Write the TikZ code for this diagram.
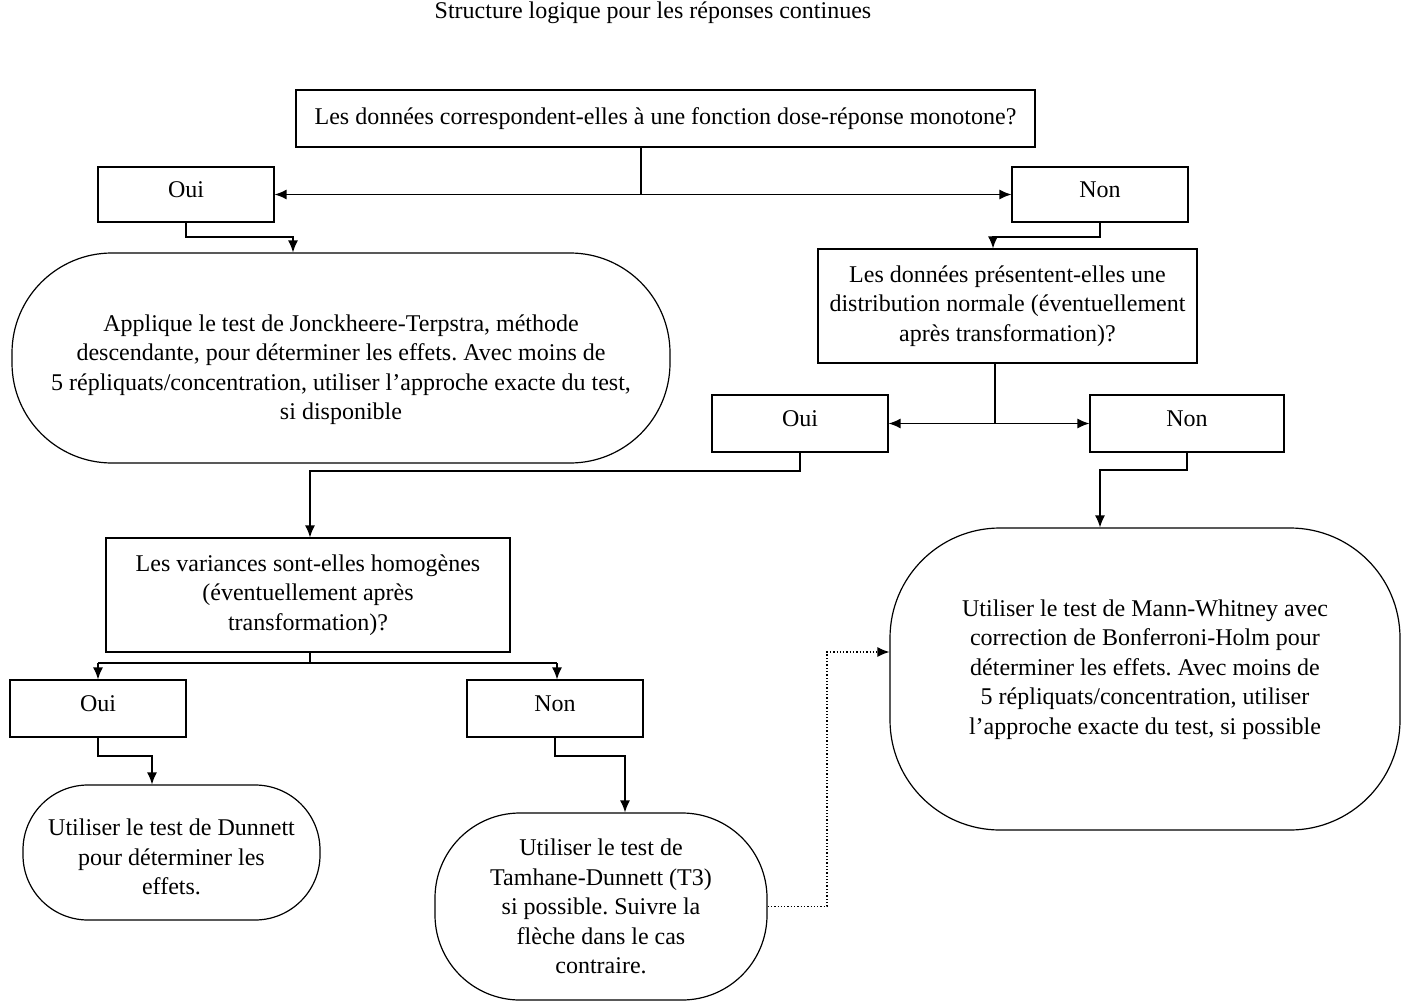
\documentclass[tikz,border=0pt]{standalone}
\usepackage{fontspec}
\setmainfont{Liberation Serif}
\usetikzlibrary{arrows.meta}
\frenchspacing
\begin{document}
\begin{tikzpicture}[x=1pt,y=-1pt,
  every node/.style={font=\fontsize{24}{29.5}\selectfont, inner sep=0pt, align=center},
  box/.style={draw, line width=1.2pt, rectangle},
  term/.style={draw, line width=1.2pt, rectangle},
  conn/.style={line width=1.3pt},
  arr/.style={conn, -{Latex[length=12pt,width=10pt]}},
  dotarr/.style={line width=1.3pt, dotted, -{Latex[length=12pt,width=10pt]}}]
\newcommand{\upstrut}{\rule[-10pt]{0pt}{0pt}}
\useasboundingbox (0,0) rectangle (1402,1006);
\fill[white] (0,0) rectangle (1402,1006);

\node (title) at (653,13) {\fontsize{24}{28}\selectfont Structure logique pour les réponses continues};

\node[box, minimum width=739pt, minimum height=57pt] (q1) at (665.5,118.5)
  {Les données correspondent-elles à une fonction dose-réponse monotone?};
\node[box, minimum width=176pt, minimum height=55pt] (oui1) at (186,194.5) {Oui\upstrut};
\node[box, minimum width=176pt, minimum height=55pt] (non1) at (1100,194.5) {Non\upstrut};

\node[term, rounded corners=100pt, minimum width=658pt, minimum height=210pt] (jt) at (341,358)
  {\rule{0pt}{40pt}Applique le test de Jonckheere-Terpstra, méthode\\descendante, pour déterminer les effets. Avec moins de\\5 répliquats/concentration, utiliser l'approche exacte du test,\\si disponible};

\node[box, minimum width=379pt, minimum height=114pt] (q2) at (1007.5,306)
  {Les données présentent-elles une\\distribution normale (éventuellement\\après transformation)?};
\node[box, minimum width=176pt, minimum height=57pt] (oui2) at (800,423.5) {Oui\upstrut};
\node[box, minimum width=194pt, minimum height=57pt] (non2) at (1187,423.5) {Non\upstrut};

\node[term, rounded corners=110pt, minimum width=510pt, minimum height=302pt] (mw) at (1145,679)
  {Utiliser le test de Mann-Whitney avec\\correction de Bonferroni-Holm pour\\déterminer les effets. Avec moins de\\5 répliquats/concentration, utiliser\\l'approche exacte du test, si possible\rule[-24pt]{0pt}{0pt}};

\node[box, minimum width=404pt, minimum height=114pt] (q3) at (308,595)
  {Les variances sont-elles homogènes\\(éventuellement après\\transformation)?};
\node[box, minimum width=176pt, minimum height=57pt] (oui3) at (98,708.5) {Oui\upstrut};
\node[box, minimum width=176pt, minimum height=57pt] (non3) at (555,708.5) {Non\upstrut};

\node[term, rounded corners=65pt, minimum width=297pt, minimum height=135pt] (dun) at (171.5,852.5)
  {\rule{0pt}{26pt}Utiliser le test de Dunnett\\pour déterminer les\\effets.};
\node[term, rounded corners=85pt, minimum width=332pt, minimum height=187pt] (tam) at (601,906.5)
  {Utiliser le test de\\Tamhane-Dunnett (T3)\\si possible. Suivre la\\flèche dans le cas\\contraire.};

% Q1 branches
\coordinate (b1) at (641,194.5);
\draw[conn] (641,0 |- q1.south) -- (b1);
\draw[arr] (b1) -- (oui1.east);
\draw[arr] (b1) -- (non1.west);
\draw[arr] (oui1.south) |- (293,237) -- (293,0 |- jt.north);
\draw[arr] (non1.south) |- (993,237) -- (993,0 |- q2.north);

% Q2 branches
\coordinate (b2) at (995,423.5);
\draw[conn] (995,0 |- q2.south) -- (b2);
\draw[arr] (b2) -- (oui2.east);
\draw[arr] (b2) -- (non2.west);
\draw[arr] (oui2.south) |- (310,471) -- (310,0 |- q3.north);
\draw[arr] (non2.south) |- (1100,470) -- (1100,0 |- mw.north);

% Q3 branches
\coordinate (b3) at (310,663);
\draw[conn] (310,0 |- q3.south) -- (b3);
\draw[conn] (98,663) -- (557,663);
\draw[arr] (98,663) -- (oui3.north);
\draw[arr] (557,663) -- (557,0 |- non3.north);
\draw[arr] (oui3.south) |- (152,756) -- (152,0 |- dun.north);
\draw[arr] (non3.south) |- (625,756) -- (625,0 |- tam.north);

% Tamhane -> Mann-Whitney
\draw[dotarr] (tam.east) -| (827,652) -- (mw.west |- 0,652);
\end{tikzpicture}
\end{document}
